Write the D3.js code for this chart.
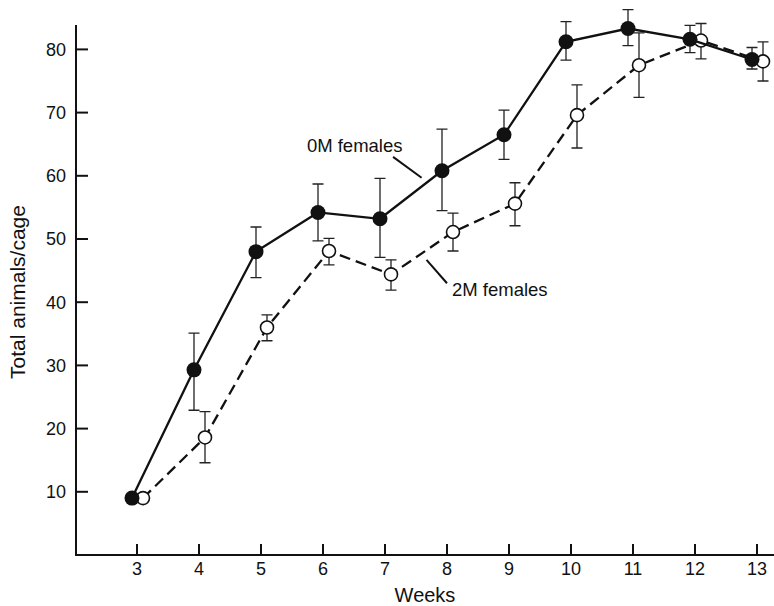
<!DOCTYPE html>
<html>
<head>
<meta charset="utf-8">
<script src="https://cdn.jsdelivr.net/npm/d3@7"></script>
<style>
  body { margin: 0; background: #fff; }
  svg text { font-family: "Liberation Sans", Arial, sans-serif; fill: #111; }
</style>
</head>
<body>
<svg width="774" height="606"></svg>
<script>
// weeks on the x axis
var weeks = [3, 4, 5, 6, 7, 8, 9, 10, 11, 12, 13];
var yTicks = [10, 20, 30, 40, 50, 60, 70, 80];

// 0M females (filled circles)
var om = [9.0, 29.3, 48.0, 54.2, 53.2, 60.8, 66.5, 81.2, 83.3, 81.6, 78.4];
var omHi = [null, 35.1, 51.9, 58.7, 59.6, 67.4, 70.4, 84.4, 86.3, 83.8, 80.3];
var omLo = [null, 22.9, 43.9, 49.7, 47.1, 54.5, 62.6, 78.3, 80.6, 79.5, 76.9];

// 2M females (open circles)
var tm = [9.0, 18.6, 36.0, 48.1, 44.4, 51.1, 55.6, 69.6, 77.5, 81.4, 78.1];
var tmHi = [null, 22.7, 38.0, 50.1, 46.7, 54.1, 58.9, 74.4, 82.6, 84.1, 81.2];
var tmLo = [null, 14.6, 33.9, 45.9, 41.9, 48.1, 52.1, 64.4, 72.4, 78.5, 75.0];

var svg = d3.select('svg');

var x = d3.scaleLinear().domain([3, 13]).range([137, 757]);
var y = d3.scaleLinear().domain([0, 80]).range([555, 49.4]);

var x0 = 76, x1 = 774, yTop = 25;

// axes lines
svg.append('line')
  .attr('x1', x0).attr('x2', x0).attr('y1', y(0) + 1).attr('y2', yTop)
  .attr('stroke', '#111').attr('stroke-width', 2);
svg.append('line')
  .attr('x1', x0 - 1).attr('x2', x1).attr('y1', y(0)).attr('y2', y(0))
  .attr('stroke', '#111').attr('stroke-width', 2);

// y ticks (pointing inward)
svg.selectAll('.ytick')
  .data(yTicks)
  .enter()
  .append('line')
  .attr('x1', x0).attr('x2', x0 + 12)
  .attr('y1', d => y(d)).attr('y2', d => y(d))
  .attr('stroke', '#111').attr('stroke-width', 2);

svg.selectAll('.ylab')
  .data(yTicks)
  .enter()
  .append('text')
  .attr('x', 66)
  .attr('y', d => y(d))
  .attr('dy', '0.35em')
  .attr('text-anchor', 'end')
  .style('font-size', '18px')
  .text(d => d);

// x ticks (pointing up)
svg.selectAll('.xtick')
  .data(weeks)
  .enter()
  .append('line')
  .attr('x1', d => x(d)).attr('x2', d => x(d))
  .attr('y1', y(0)).attr('y2', y(0) - 11)
  .attr('stroke', '#111').attr('stroke-width', 2);

svg.selectAll('.xlab')
  .data(weeks)
  .enter()
  .append('text')
  .attr('x', d => x(d))
  .attr('y', 569)
  .attr('dy', '0.35em')
  .attr('text-anchor', 'middle')
  .style('font-size', '18px')
  .text(d => d);

// axis titles
svg.append('text')
  .attr('x', (x0 + x1) / 2)
  .attr('y', 595)
  .attr('dy', '0.35em')
  .attr('text-anchor', 'middle')
  .style('font-size', '20px')
  .text('Weeks');

svg.append('text')
  .attr('transform', 'translate(18,' + 292 + ') rotate(-90)')
  .attr('dy', '0.35em')
  .attr('text-anchor', 'middle')
  .style('font-size', '21px')
  .text('Total animals/cage');

var drawSeries = function(vals, hi, lo, dx, filled, dash) {
  var pts = weeks.map((w, i) => ({w: w, v: vals[i], hi: hi[i], lo: lo[i]}));

  var g = svg.append('g');

  g.selectAll('.err')
    .data(pts.filter(d => d.hi != null))
    .enter()
    .append('path')
    .attr('d', d => {
      var cx = x(d.w) + dx;
      return 'M' + cx + ',' + y(d.hi) + 'V' + y(d.lo) +
        'M' + (cx - 5.5) + ',' + y(d.hi) + 'H' + (cx + 5.5) +
        'M' + (cx - 5.5) + ',' + y(d.lo) + 'H' + (cx + 5.5);
    })
    .attr('fill', 'none')
    .attr('stroke', '#222')
    .attr('stroke-width', 1.3);

  var line = d3.line()
    .x(d => x(d.w) + dx)
    .y(d => y(d.v));

  g.append('path')
    .datum(pts)
    .attr('d', line)
    .attr('fill', 'none')
    .attr('stroke', '#111')
    .attr('stroke-width', 2.3)
    .attr('stroke-dasharray', dash);

  g.selectAll('circle')
    .data(pts)
    .enter()
    .append('circle')
    .attr('cx', d => x(d.w) + dx)
    .attr('cy', d => y(d.v))
    .attr('r', filled ? 7.5 : 6.5)
    .attr('fill', filled ? '#111' : '#fff')
    .attr('stroke', '#111')
    .attr('stroke-width', filled ? 0 : 1.6);
};

drawSeries(tm, tmHi, tmLo, 6, false, '11,6');
drawSeries(om, omHi, omLo, -5, true, null);

// annotations
var notes = [
  {text: '0M females', tx: 5.74, ty: 64.8, lx1: 7.13, ly1: 63.0, lx2: 7.59, ly2: 59.7},
  {text: '2M females', tx: 8.08, ty: 42.0, lx1: 7.67, ly1: 46.7, lx2: 8.0, ly2: 43.0}
];

svg.selectAll('.note')
  .data(notes)
  .enter()
  .append('text')
  .attr('x', d => x(d.tx))
  .attr('y', d => y(d.ty))
  .attr('dy', '0.35em')
  .style('font-size', '18.5px')
  .text(d => d.text);

svg.selectAll('.leader')
  .data(notes)
  .enter()
  .append('line')
  .attr('x1', d => x(d.lx1)).attr('y1', d => y(d.ly1))
  .attr('x2', d => x(d.lx2)).attr('y2', d => y(d.ly2))
  .attr('stroke', '#111').attr('stroke-width', 2);
</script>
</body>
</html>
